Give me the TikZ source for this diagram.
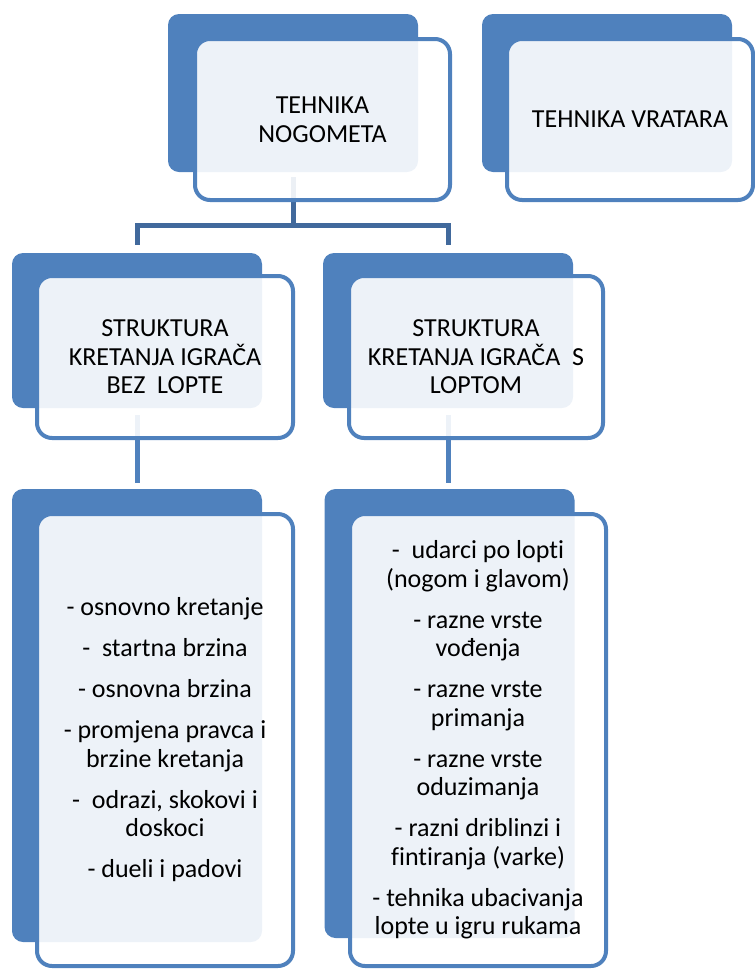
\documentclass[tikz,border=0pt]{standalone}
\usepackage{fontspec}
\setmainfont{Carlito}[Ligatures=NoCommon]
\usetikzlibrary{positioning}
\definecolor{accent}{HTML}{4F81BD}
\definecolor{linkdark}{HTML}{41699C}

\begin{document}
\begin{tikzpicture}[x=1pt,y=-1pt]
\tikzstyle{every node}+=[inner sep=0pt]
\tikzstyle{back}=[fill=accent, rounded corners=11pt, minimum width=250pt]
\tikzstyle{front}=[draw=accent, line width=4pt, fill=white, fill opacity=0.9, text opacity=1,
  rounded corners=15pt, minimum width=256pt, minimum height=162pt, align=center,
  font=\fontsize{26}{28.5}\selectfont]
\tikzstyle{link}=[line width=5pt]
\useasboundingbox (0,0) rectangle (755,970);
% back shapes
\node [back, minimum height=158pt] (nogometB) at (293,93) {};
\node [back, minimum height=158pt] (vrataraB) at (607,93) {};
\node [back, minimum height=155pt] (bezB) at (137,330.5) {};
\node [back, minimum height=155pt] (saB) at (448,330.5) {};
\node [back, minimum height=453pt] (bezListB) at (137,715.5) {};
\node [back, minimum height=449pt] (saListB) at (449.5,713.5) {};
% connectors
\coordinate (split) at (293,225);
\draw [link, linkdark, shorten <=5pt] (nogometB.south) -- (split);
\draw [link, linkdark, shorten <=8pt, shorten >=8pt] (bezB.north) |- (split) -| (saB.north);
\draw [link, accent, shorten <=7pt, shorten >=6pt] (bezB.south) -- (bezListB.north);
\draw [link, accent, shorten <=7pt, shorten >=6pt] (saB.south) -- (saB.south |- saListB.north);
% front shapes
\node [front, minimum width=255pt, minimum height=161pt] (nogomet) at (322.5,119.5) {TEHNIKA\\NOGOMETA};
\node [front, minimum width=246pt, minimum height=161pt] (vratara) at (630,119.5) {TEHNIKA VRATARA};
\node [front] (bez) at (165,357) {STRUKTURA\\KRETANJA IGRAČA\\BEZ\ \ LOPTE};
\node [front, minimum width=254pt] (sa) at (476,357) {STRUKTURA\\KRETANJA IGRAČA\ \ S\\LOPTOM};
\node [front, minimum height=452pt] (bezList) at (165,740) {- osnovno kretanje\\[12.5pt]
  -\ \ startna brzina\\[12.5pt]
  - osnovna brzina\\[12.5pt]
  - promjena pravca i\\brzine kretanja\\[12.5pt]
  -\ \ odrazi, skokovi i\\doskoci\\[12.5pt]
  - dueli i padovi};
\node [front, minimum height=452pt] (saList) at (478,740) {-\ \ udarci po lopti\\(nogom i glavom)\\[12.5pt]
  - razne vrste\\vođenja\\[12.5pt]
  - razne vrste\\primanja\\[12.5pt]
  - razne vrste\\oduzimanja\\[12.5pt]
  - razni driblinzi i\\fintiranja (varke)\\[12.5pt]
  - tehnika ubacivanja\\lopte u igru rukama};
\end{tikzpicture}
\end{document}
